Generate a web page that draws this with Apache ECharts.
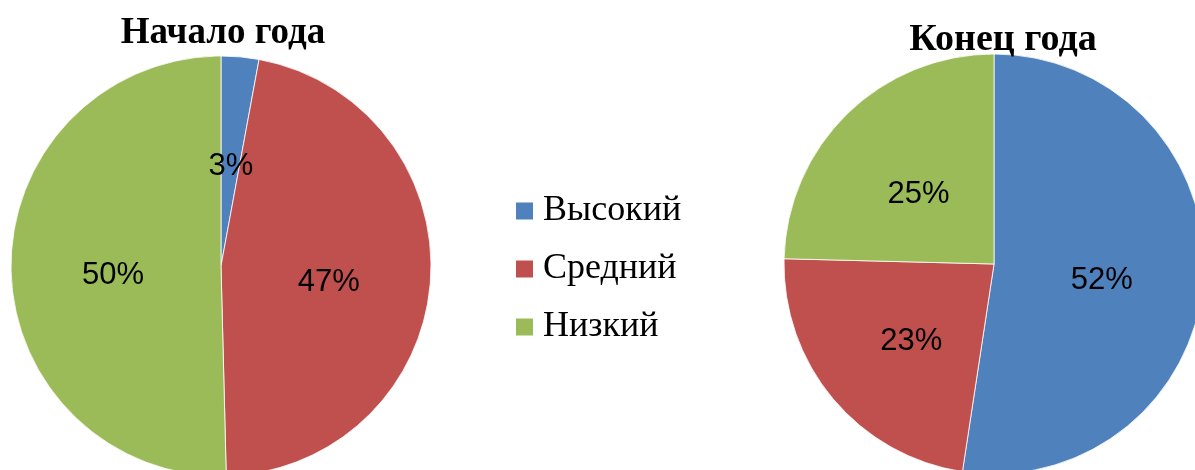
<!DOCTYPE html>
<html>
<head>
<meta charset="utf-8">
<script src="https://cdn.jsdelivr.net/npm/echarts@6/dist/echarts.min.js"></script>
<style>
html,body{margin:0;padding:0;background:#fff;}
#chart{width:1195px;height:470px;}
</style>
</head>
<body>
<div id="chart"></div>
<script>
const categories = ['Высокий', 'Средний', 'Низкий'];
const startValues = [2.9, 46.7, 50.4];
const endValues = [52.4, 23.0, 24.6];
const titles = ['Начало года', 'Конец года'];
const colors = ['#4F81BD', '#C0504D', '#9BBB59'];

const chart = echarts.init(document.getElementById('chart'), null, {renderer: 'canvas'});

function pieData(values) {
  return categories.map((c, i) => ({name: c, value: values[i]}));
}

const labelStyle = {
  show: true,
  position: 'inside',
  color: '#000',
  fontFamily: '"Liberation Sans Narrow", "Liberation Sans", sans-serif',
  fontSize: 31,
  offset: [0, 8],
  formatter: p => Math.round(p.percent) + '%'
};

chart.setOption({
  animation: false,
  color: colors,
  title: [
    {text: titles[0], left: 218, top: 10, textAlign: 'center',
     textStyle: {fontFamily: '"Liberation Serif", "Times New Roman", serif', fontWeight: 'bold', fontSize: 37, color: '#000'}},
    {text: titles[1], left: 998, top: 16, textAlign: 'center',
     textStyle: {fontFamily: '"Liberation Serif", "Times New Roman", serif', fontWeight: 'bold', fontSize: 38, color: '#000'}}
  ],
  legend: {
    orient: 'vertical',
    left: 514,
    top: 193,
    padding: 0,
    data: categories,
    icon: 'rect',
    itemWidth: 19,
    itemHeight: 19,
    itemGap: 22,
    textStyle: {fontFamily: '"Liberation Serif", "Times New Roman", serif', fontSize: 36, color: '#000', padding: [0, 0, 0, 4]},
    selectedMode: false
  },
  series: [
    {
      type: 'pie', center: [221, 266], radius: 210, startAngle: 90, clockwise: true,
      data: pieData(startValues),
      label: labelStyle, labelLine: {show: false},
      itemStyle: {borderColor: '#fff', borderWidth: 0.8},
      emphasis: {disabled: true}
    },
    {
      type: 'pie', center: [994, 264], radius: 210, startAngle: 90, clockwise: true,
      data: pieData(endValues),
      label: labelStyle, labelLine: {show: false},
      itemStyle: {borderColor: '#fff', borderWidth: 0.8},
      emphasis: {disabled: true}
    }
  ]
});
</script>
</body>
</html>
